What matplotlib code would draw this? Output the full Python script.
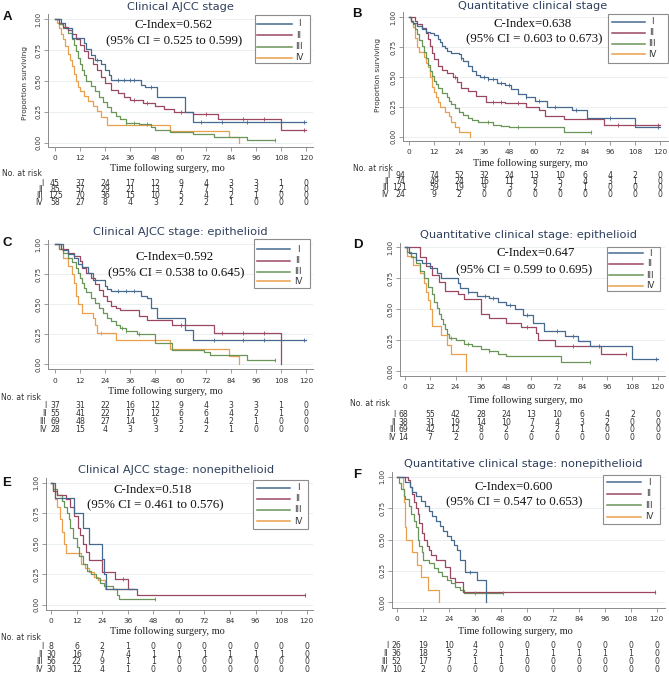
import numpy as np
import matplotlib
matplotlib.use('Agg')
import matplotlib.pyplot as plt
from matplotlib.transforms import blended_transform_factory
from matplotlib.patches import Rectangle
from matplotlib.lines import Line2D

W, H = 669, 677
fig = plt.figure(figsize=(W / 100, H / 100), dpi=100)

SERIF = ['Liberation Serif', 'DejaVu Serif']
SANS = ['DejaVu Sans']
COLORS = ['#46698F', '#9A4860', '#6A9558', '#EA9F4C']
TITLE_C = '#2E3F5C'
stages = ['I', 'II', 'III', 'IV']
xticks = [0, 12, 24, 36, 48, 60, 72, 84, 96, 108, 120]
yticks = [0.0, 0.25, 0.5, 0.75, 1.0]
ytick_labels = ['0.00', '0.25', '0.50', '0.75', '1.00']

# ---------------- Panel A: Clinical AJCC stage ----------------
a1_t = [0, 3, 5, 8, 14, 15, 17, 19, 22, 24, 26, 27, 41, 43, 49, 62, 66, 120]
a1_s = [1.0, 0.97, 0.93, 0.85, 0.81, 0.76, 0.71, 0.67, 0.64, 0.59, 0.55, 0.51, 0.47, 0.45, 0.37, 0.25, 0.17, 0.17]
a2_t = [0, 2, 4, 6, 8, 10, 12, 14, 16, 18, 20, 22, 24, 27, 30, 33, 36, 42, 48, 52, 57, 66, 78, 108, 120]
a2_s = [1.0, 0.97, 0.94, 0.91, 0.88, 0.84, 0.79, 0.74, 0.69, 0.64, 0.59, 0.53, 0.48, 0.43, 0.40, 0.37, 0.345, 0.32, 0.30, 0.27, 0.25, 0.235, 0.195, 0.10, 0.10]
a3_t = [0, 2, 4, 6, 8, 9, 10, 11, 12, 13, 14, 15, 17, 19, 21, 23, 25, 27, 29, 31, 34, 40, 46, 48, 55, 66, 76, 92, 105]
a3_s = [1.0, 0.96, 0.93, 0.89, 0.84, 0.79, 0.74, 0.69, 0.64, 0.59, 0.55, 0.50, 0.46, 0.42, 0.37, 0.33, 0.29, 0.25, 0.22, 0.19, 0.16, 0.15, 0.13, 0.10, 0.085, 0.07, 0.05, 0.025, 0.025]
a4_t = [0, 1, 2, 3, 4, 5, 6, 7, 8, 9, 10, 11, 12, 14, 16, 18, 20, 22, 25, 55, 83, 88]
a4_s = [1.0, 0.97, 0.93, 0.88, 0.84, 0.78, 0.72, 0.67, 0.62, 0.56, 0.50, 0.45, 0.42, 0.38, 0.34, 0.30, 0.26, 0.21, 0.14, 0.095, 0.05, 0.0]
a_cens = [[20, 30, 33, 36, 38, 46, 70, 80, 92, 119], [38, 44, 60, 72, 90, 100, 119], [34, 38, 44, 105], []]
a_risk = [[45, 37, 24, 17, 12, 9, 4, 3, 3, 1, 0],
          [85, 57, 29, 21, 13, 7, 7, 5, 3, 2, 0],
          [125, 70, 36, 15, 10, 5, 4, 2, 1, 0, 0],
          [58, 27, 8, 4, 3, 2, 2, 1, 0, 0, 0]]

# ---------------- Panel B: Quantitative clinical stage ----------------
b1_t = [0, 1, 2, 4, 6, 8, 10, 12, 14, 15, 16, 17, 18, 20, 24, 25, 26, 28, 30, 32, 34, 38, 42, 46, 49, 52, 56, 60, 66, 78, 85, 108, 120]
b1_s = [1.0, 0.97, 0.95, 0.93, 0.90, 0.88, 0.87, 0.85, 0.82, 0.79, 0.76, 0.74, 0.72, 0.70, 0.69, 0.66, 0.63, 0.59, 0.55, 0.52, 0.50, 0.48, 0.45, 0.43, 0.40, 0.36, 0.33, 0.30, 0.25, 0.22, 0.155, 0.08, 0.08]
b2_t = [0, 3, 4, 6, 8, 9, 10, 11, 12, 14, 16, 18, 21, 23, 25, 28, 32, 37, 46, 56, 62, 65, 74, 93, 120]
b2_s = [1.0, 0.97, 0.94, 0.91, 0.87, 0.82, 0.76, 0.70, 0.65, 0.59, 0.56, 0.53, 0.50, 0.46, 0.41, 0.38, 0.34, 0.29, 0.28, 0.25, 0.22, 0.17, 0.145, 0.10, 0.10]
b3_t = [0, 1, 2, 3, 4, 5, 6, 7, 8, 9, 10, 11, 12, 13, 14, 16, 18, 19, 20, 22, 24, 26, 28, 30, 33, 40, 44, 48, 74, 87]
b3_s = [1.0, 0.97, 0.94, 0.90, 0.86, 0.81, 0.76, 0.71, 0.66, 0.60, 0.55, 0.51, 0.47, 0.44, 0.41, 0.37, 0.33, 0.30, 0.27, 0.24, 0.21, 0.18, 0.16, 0.14, 0.12, 0.10, 0.09, 0.08, 0.04, 0.04]
b4_t = [0, 1, 2, 3, 4, 5, 7, 8, 9, 10, 11, 12, 13, 14, 15, 17, 19, 20, 22, 24, 29]
b4_s = [1.0, 0.96, 0.92, 0.83, 0.75, 0.71, 0.67, 0.62, 0.58, 0.50, 0.42, 0.375, 0.33, 0.29, 0.25, 0.21, 0.17, 0.125, 0.08, 0.04, 0.0]
b_cens = [[25, 36, 38, 40, 44, 48, 56, 62, 70, 80, 96, 119], [22, 40, 44, 52, 100, 119], [38, 52, 87], []]
b_risk = [[94, 74, 52, 32, 24, 13, 10, 6, 4, 2, 0],
          [74, 49, 24, 16, 11, 8, 5, 4, 3, 1, 0],
          [121, 59, 19, 9, 3, 2, 2, 1, 0, 0, 0],
          [24, 9, 2, 0, 0, 0, 0, 0, 0, 0, 0]]

# ---------------- Panel C: Clinical AJCC stage: epithelioid ----------------
c1_t = [0, 4, 6, 9, 11, 13, 16, 18, 24, 25, 27, 41, 44, 46, 49, 62, 66, 120]
c1_s = [1.0, 0.95, 0.92, 0.89, 0.84, 0.81, 0.76, 0.70, 0.65, 0.63, 0.61, 0.57, 0.55, 0.47, 0.39, 0.29, 0.20, 0.20]
c2_t = [0, 3, 6, 9, 12, 13, 15, 17, 19, 21, 23, 25, 27, 29, 31, 40, 44, 56, 76, 108]
c2_s = [1.0, 0.96, 0.93, 0.90, 0.86, 0.80, 0.76, 0.72, 0.67, 0.62, 0.57, 0.53, 0.49, 0.47, 0.45, 0.40, 0.37, 0.33, 0.26, 0.0]
c3_t = [0, 2, 4, 6, 8, 10, 11, 12, 13, 14, 15, 17, 19, 21, 23, 25, 27, 29, 31, 34, 39, 48, 56, 71, 74, 92, 105]
c3_s = [1.0, 0.96, 0.93, 0.89, 0.85, 0.80, 0.76, 0.72, 0.68, 0.64, 0.60, 0.55, 0.51, 0.47, 0.43, 0.39, 0.36, 0.33, 0.30, 0.28, 0.25, 0.18, 0.12, 0.10, 0.08, 0.036, 0.036]
c4_t = [0, 2, 4, 6, 8, 9, 10, 11, 13, 18, 19, 20, 29, 55, 83, 88]
c4_s = [1.0, 0.96, 0.89, 0.82, 0.75, 0.68, 0.57, 0.50, 0.43, 0.39, 0.33, 0.26, 0.20, 0.13, 0.07, 0.0]
c_cens = [[30, 34, 38, 76, 90, 100, 119], [60, 80, 90, 100], [32, 34, 40, 105], [22]]
c_risk = [[37, 31, 22, 16, 12, 9, 4, 3, 3, 1, 0],
          [55, 41, 22, 17, 12, 6, 6, 4, 2, 1, 0],
          [69, 48, 27, 14, 9, 5, 4, 2, 1, 0, 0],
          [28, 15, 4, 3, 3, 2, 2, 1, 0, 0, 0]]

# ---------------- Panel D: Quantitative clinical stage: epithelioid ----------------
d1_t = [0, 2, 5, 8, 12, 15, 17, 25, 26, 30, 34, 40, 44, 48, 52, 56, 61, 66, 76, 82, 88, 108, 120]
d1_s = [1.0, 0.95, 0.90, 0.87, 0.83, 0.79, 0.75, 0.71, 0.67, 0.64, 0.61, 0.59, 0.56, 0.53, 0.50, 0.45, 0.39, 0.32, 0.28, 0.24, 0.20, 0.10, 0.10]
d2_t = [0, 7, 10, 13, 16, 19, 25, 28, 36, 40, 48, 55, 62, 63, 71, 93, 105]
d2_s = [1.0, 0.92, 0.85, 0.78, 0.72, 0.65, 0.62, 0.58, 0.46, 0.43, 0.385, 0.355, 0.31, 0.25, 0.20, 0.14, 0.14]
d3_t = [0, 1, 3, 5, 7, 9, 11, 13, 14, 15, 16, 17, 18, 19, 20, 21, 24, 28, 32, 36, 40, 44, 48, 74, 88]
d3_s = [1.0, 0.96, 0.92, 0.87, 0.81, 0.75, 0.68, 0.62, 0.56, 0.51, 0.46, 0.42, 0.38, 0.34, 0.30, 0.27, 0.25, 0.22, 0.20, 0.18, 0.16, 0.14, 0.12, 0.07, 0.07]
d4_t = [0, 1, 4, 7, 9, 10, 11, 12, 13, 17, 20, 22, 29]
d4_s = [1.0, 0.93, 0.86, 0.79, 0.71, 0.64, 0.57, 0.50, 0.36, 0.29, 0.21, 0.14, 0.0]
d_cens = [[30, 38, 42, 50, 58, 72, 80, 92, 119], [58, 80, 105], [22, 30, 40, 88], []]
d_risk = [[68, 55, 42, 28, 24, 13, 10, 6, 4, 2, 0],
          [38, 31, 19, 14, 10, 7, 4, 3, 2, 0, 0],
          [69, 42, 12, 8, 2, 2, 2, 1, 0, 0, 0],
          [14, 7, 2, 0, 0, 0, 0, 0, 0, 0, 0]]

# ---------------- Panel E: Clinical AJCC stage: nonepithelioid ----------------
e1_t = [0, 2, 11, 15, 18, 24, 25, 26, 40]
e1_s = [1.0, 0.875, 0.75, 0.625, 0.5, 0.375, 0.25, 0.125, 0.125]
e2_t = [0, 1, 3, 7, 9, 11, 12.5, 13.5, 15, 16.5, 18, 24, 30, 36, 40.5, 119]
e2_s = [1.0, 0.93, 0.90, 0.87, 0.80, 0.73, 0.63, 0.57, 0.50, 0.43, 0.37, 0.27, 0.21, 0.13, 0.08, 0.08]
e3_t = [0, 1, 3, 5, 6, 7.5, 8.5, 9, 10.5, 12, 13, 15, 17, 19, 21, 23, 25, 29, 31, 32, 49]
e3_s = [1.0, 0.95, 0.90, 0.85, 0.80, 0.75, 0.70, 0.63, 0.55, 0.47, 0.40, 0.33, 0.28, 0.25, 0.22, 0.18, 0.15, 0.13, 0.08, 0.045, 0.045]
e4_t = [0, 1, 2, 3, 4, 5, 6, 7, 14, 16, 18, 20, 22, 25.5, 38]
e4_s = [1.0, 0.93, 0.87, 0.80, 0.70, 0.60, 0.50, 0.42, 0.33, 0.30, 0.27, 0.23, 0.20, 0.13, 0.13]
e_cens = [[], [34, 119], [49], []]
e_risk = [[8, 6, 2, 1, 0, 0, 0, 0, 0, 0, 0],
          [30, 16, 7, 4, 1, 1, 1, 1, 1, 1, 0],
          [56, 22, 9, 1, 1, 0, 0, 0, 0, 0, 0],
          [30, 12, 4, 1, 0, 0, 0, 0, 0, 0, 0]]

# ---------------- Panel F: Quantitative clinical stage: nonepithelioid ----------------
f1_t = [0, 4, 6, 7, 9, 11, 13, 15, 16.5, 18, 20, 21.5, 23, 25, 26.5, 28, 29, 31.5, 37, 41]
f1_s = [1.0, 0.96, 0.92, 0.88, 0.85, 0.81, 0.77, 0.73, 0.69, 0.65, 0.61, 0.57, 0.53, 0.50, 0.46, 0.42, 0.34, 0.24, 0.18, 0.0]
f2_t = [0, 5, 6, 7, 8, 9, 10, 10.5, 11.5, 12.5, 14, 15, 16, 18, 22.5, 24.5, 27, 30.5, 119]
f2_s = [1.0, 0.97, 0.92, 0.86, 0.80, 0.75, 0.70, 0.63, 0.55, 0.50, 0.45, 0.42, 0.38, 0.34, 0.28, 0.19, 0.16, 0.085, 0.085]
f3_t = [0, 1, 2, 3.5, 4, 5.5, 6.5, 8, 9, 10, 10.5, 11.5, 12, 15, 17, 19, 21, 23, 25, 27, 29, 31, 49]
f3_s = [1.0, 0.95, 0.90, 0.85, 0.82, 0.77, 0.70, 0.65, 0.60, 0.50, 0.45, 0.40, 0.34, 0.31, 0.27, 0.24, 0.21, 0.18, 0.15, 0.12, 0.10, 0.075, 0.075]
f4_t = [0, 3, 3.5, 4, 4.5, 7, 9.5, 11, 14.5, 19.5]
f4_s = [1.0, 0.9, 0.8, 0.6, 0.5, 0.4, 0.3, 0.2, 0.1, 0.0]
f_cens = [[34], [119], [36, 49], []]
f_risk = [[26, 19, 10, 4, 0, 0, 0, 0, 0, 0, 0],
          [36, 18, 5, 2, 1, 1, 1, 1, 1, 1, 0],
          [52, 17, 7, 1, 1, 0, 0, 0, 0, 0, 0],
          [10, 2, 0, 0, 0, 0, 0, 0, 0, 0, 0]]

panels = [
    dict(letter='A', title='Clinical AJCC stage', cidx='0.562', ci=('0.525', '0.599'),
         curves=[(a1_t, a1_s), (a2_t, a2_s), (a3_t, a3_s), (a4_t, a4_s)], cens=a_cens, risk=a_risk,
         x0=55, x120=306, y1=19.3, y0=142.7, L=48, B=147, R=313, T=14,
         title_xy=(180, 6.5), letter_xy=(7, 17), cx=(174, 174), cy=(25, 41.7),
         leg=(255, 15, 310, 63), leg_y=[24, 35.3, 46.7, 58], leg_lx=(257, 292), leg_tx=299,
         xlab=(167, 168.5), norisk=(2, 173.5), rows=[183.3, 189.6, 195.9, 202.2], col0=0, lab=-12,
         ylab=(25, 83)),
    dict(letter='B', title='Quantitative clinical stage', cidx='0.638', ci=('0.603', '0.673'),
         curves=[(b1_t, b1_s), (b2_t, b2_s), (b3_t, b3_s), (b4_t, b4_s)], cens=b_cens, risk=b_risk,
         x0=409, x120=660, y1=17.3, y0=136.7, L=403, B=141, R=668, T=12,
         title_xy=(533, 6), letter_xy=(357, 14), cx=(533, 534), cy=(24, 39.3),
         leg=(608, 14, 668, 63), leg_y=[21.7, 32.7, 43.5, 54.3], leg_lx=(612, 645), leg_tx=652,
         xlab=(530, 163), norisk=(353, 168.3), rows=[175.5, 181.7, 188, 194.2], col0=-9, lab=-20,
         ylab=(378, 75)),
    dict(letter='C', title='Clinical AJCC stage: epithelioid', cidx='0.592', ci=('0.538', '0.645'),
         curves=[(c1_t, c1_s), (c2_t, c2_s), (c3_t, c3_s), (c4_t, c4_s)], cens=c_cens, risk=c_risk,
         x0=55, x120=306, y1=244.3, y0=364.3, L=48, B=369.3, R=313, T=240,
         title_xy=(180, 231.7), letter_xy=(7, 243), cx=(175, 176), cy=(256.7, 273.3),
         leg=(254, 239.3, 310, 288.3), leg_y=[249, 260.5, 271.5, 281], leg_lx=(257, 290), leg_tx=298,
         xlab=(165, 391), norisk=(1, 397.3), rows=[406, 414, 422, 429.7], col0=0, lab=-8.5, ylab=None),
    dict(letter='D', title='Quantitative clinical stage: epithelioid', cidx='0.647', ci=('0.599', '0.695'),
         curves=[(d1_t, d1_s), (d2_t, d2_s), (d3_t, d3_s), (d4_t, d4_s)], cens=d_cens, risk=d_risk,
         x0=405, x120=657.7, y1=247.3, y0=371, L=400, B=376, R=665, T=243,
         title_xy=(529, 235), letter_xy=(358, 245), cx=(536, 524), cy=(253.3, 270),
         leg=(607, 246.7, 660, 291), leg_y=[253.3, 264, 275, 286], leg_lx=(609, 643), leg_tx=650,
         xlab=(525, 400), norisk=(350, 404), rows=[414.3, 422.3, 430, 437.7], col0=-2, lab=-9, ylab=None),
    dict(letter='E', title='Clinical AJCC stage: nonepithelioid', cidx='0.518', ci=('0.461', '0.576'),
         curves=[(e1_t, e1_s), (e2_t, e2_s), (e3_t, e3_s), (e4_t, e4_s)], cens=e_cens, risk=e_risk,
         x0=51, x120=306.7, y1=482.7, y0=604.7, L=46, B=610, R=313, T=478,
         title_xy=(176, 470), letter_xy=(7, 482.7), cx=(153, 155), cy=(490, 505),
         leg=(253, 480, 308, 529), leg_y=[487.7, 498.8, 510, 521.2], leg_lx=(257, 290), leg_tx=298,
         xlab=(167, 631), norisk=(1, 637.3), rows=[646.7, 654.3, 661.7, 669.3], col0=0, lab=-8, ylab=None),
    dict(letter='F', title='Quantitative clinical stage: nonepithelioid', cidx='0.600', ci=('0.547', '0.653'),
         curves=[(f1_t, f1_s), (f2_t, f2_s), (f3_t, f3_s), (f4_t, f4_s)], cens=f_cens, risk=f_risk,
         x0=396.7, x120=656.7, y1=476.7, y0=602.3, L=392.3, B=607.7, R=665, T=472,
         title_xy=(523, 464), letter_xy=(357, 475), cx=(514, 514), cy=(487.3, 502.7),
         leg=(603, 475, 660, 524), leg_y=[482.3, 493.8, 505.2, 516.7], leg_lx=(607, 641), leg_tx=649,
         xlab=(515, 630.7), norisk=None, rows=[645.7, 653.3, 661, 669], col0=0, lab=-8.5, ylab=None),
]

# overlay axes in pixel coordinates for annotations
ov = fig.add_axes([0, 0, 1, 1], zorder=10)
ov.set_xlim(0, W)
ov.set_ylim(H, 0)
ov.axis('off')
ov.patch.set_alpha(0)

RISK_FS = 5.6

for p in panels:
    sx = (p['x120'] - p['x0']) / 120.0
    sy = p['y0'] - p['y1']
    L, B, R, T = p['L'], p['B'], p['R'], p['T']
    ax = fig.add_axes([L / W, 1 - B / H, (R - L) / W, (B - T) / H])
    ax.set_xlim((L - p['x0']) / sx, (R - p['x0']) / sx)
    ax.set_ylim((p['y0'] - B) / sy, (p['y0'] - T) / sy)
    ax.patch.set_alpha(0)
    for sp in ['top', 'right']:
        ax.spines[sp].set_visible(False)
    for sp in ['left', 'bottom']:
        ax.spines[sp].set_color('#8a8a8a')
        ax.spines[sp].set_linewidth(0.7)
    ax.set_xticks(xticks)
    ax.set_xticklabels([str(v) for v in xticks], fontsize=5.3, color='#333333', family=SANS)
    ax.set_yticks(yticks)
    ax.set_yticklabels(ytick_labels, rotation=90, va='center', fontsize=4.9, color='#333333', family=SANS)
    ax.tick_params(direction='out', length=3, width=0.6, color='#8a8a8a')
    ax.tick_params(axis='x', pad=3)
    ax.tick_params(axis='y', pad=2)
    ax.yaxis.grid(True, color='#e6ecf0', lw=0.6)
    ax.set_axisbelow(True)

    for k, ((t, s), cens) in enumerate(zip(p['curves'], p['cens'])):
        ax.step(t, s, where='post', color=COLORS[k], lw=0.9, zorder=3 + (3 - k) * 0.1)
        if cens:
            ta = np.asarray(t, float)
            sa = np.asarray(s, float)
            idx = np.searchsorted(ta, cens, side='right') - 1
            ax.plot(cens, sa[idx], ls='none', marker='|', ms=3.2, mew=0.6, color=COLORS[k], zorder=4)

    # title, letter, c-index
    ov.text(p['title_xy'][0], p['title_xy'][1], p['title'], ha='center', va='center',
            fontsize=8.2, color=TITLE_C, family=SANS)
    ov.text(p['letter_xy'][0], p['letter_xy'][1], p['letter'], ha='center', va='center',
            fontsize=9.5, fontweight='bold', color='#111111', family=['Liberation Sans', 'DejaVu Sans'])
    ov.text(p['cx'][0], p['cy'][0], 'C-Index=' + p['cidx'], ha='center', va='center',
            fontsize=9.3, color='#111111', family=SERIF)
    ov.text(p['cx'][1], p['cy'][1], '(95% CI = ' + p['ci'][0] + ' to ' + p['ci'][1] + ')',
            ha='center', va='center', fontsize=9.3, color='#111111', family=SERIF)

    # legend
    lx0, ly0, lx1, ly1 = p['leg']
    ov.add_patch(Rectangle((lx0, ly0), lx1 - lx0, ly1 - ly0, fill=True, fc='white',
                           ec='#8c8c8c', lw=0.8))
    for k in range(4):
        ov.add_line(Line2D(p['leg_lx'], [p['leg_y'][k]] * 2, color=COLORS[k], lw=1.1))
        ov.text(p['leg_tx'], p['leg_y'][k], stages[k], ha='center', va='center',
                fontsize=6.2, color='#333333', family=SANS)

    # axis labels
    ov.text(p['xlab'][0], p['xlab'][1], 'Time following surgery, mo', ha='center', va='center',
            fontsize=7.4, color='#222222', family=SERIF)
    if p['ylab']:
        ov.text(p['ylab'][0], p['ylab'][1], 'Proportion surviving', ha='center', va='center',
                rotation=90, fontsize=5.3, color='#333333', family=SANS)

    # number at risk table
    if p['norisk']:
        ov.text(p['norisk'][0], p['norisk'][1], 'No. at risk', ha='left', va='center',
                fontsize=RISK_FS, color='#333333', family=SANS)
    tr = blended_transform_factory(ax.transData, ov.transData)
    off0 = p['col0'] / sx
    for k in range(4):
        yrow = p['rows'][k]
        for j, (tt, n) in enumerate(zip(xticks, p['risk'][k])):
            xx = tt + (off0 if j == 0 else 0)
            ax.text(xx, yrow, str(n), transform=tr, ha='center', va='center', clip_on=False,
                    fontsize=RISK_FS, color='#333333', family=SANS)
        ax.text(p['lab'] / sx, yrow, stages[k], transform=tr, ha='right', va='center', clip_on=False,
                fontsize=RISK_FS, color='#333333', family=SANS)

fig.savefig('out.png', dpi=100, facecolor='white')
